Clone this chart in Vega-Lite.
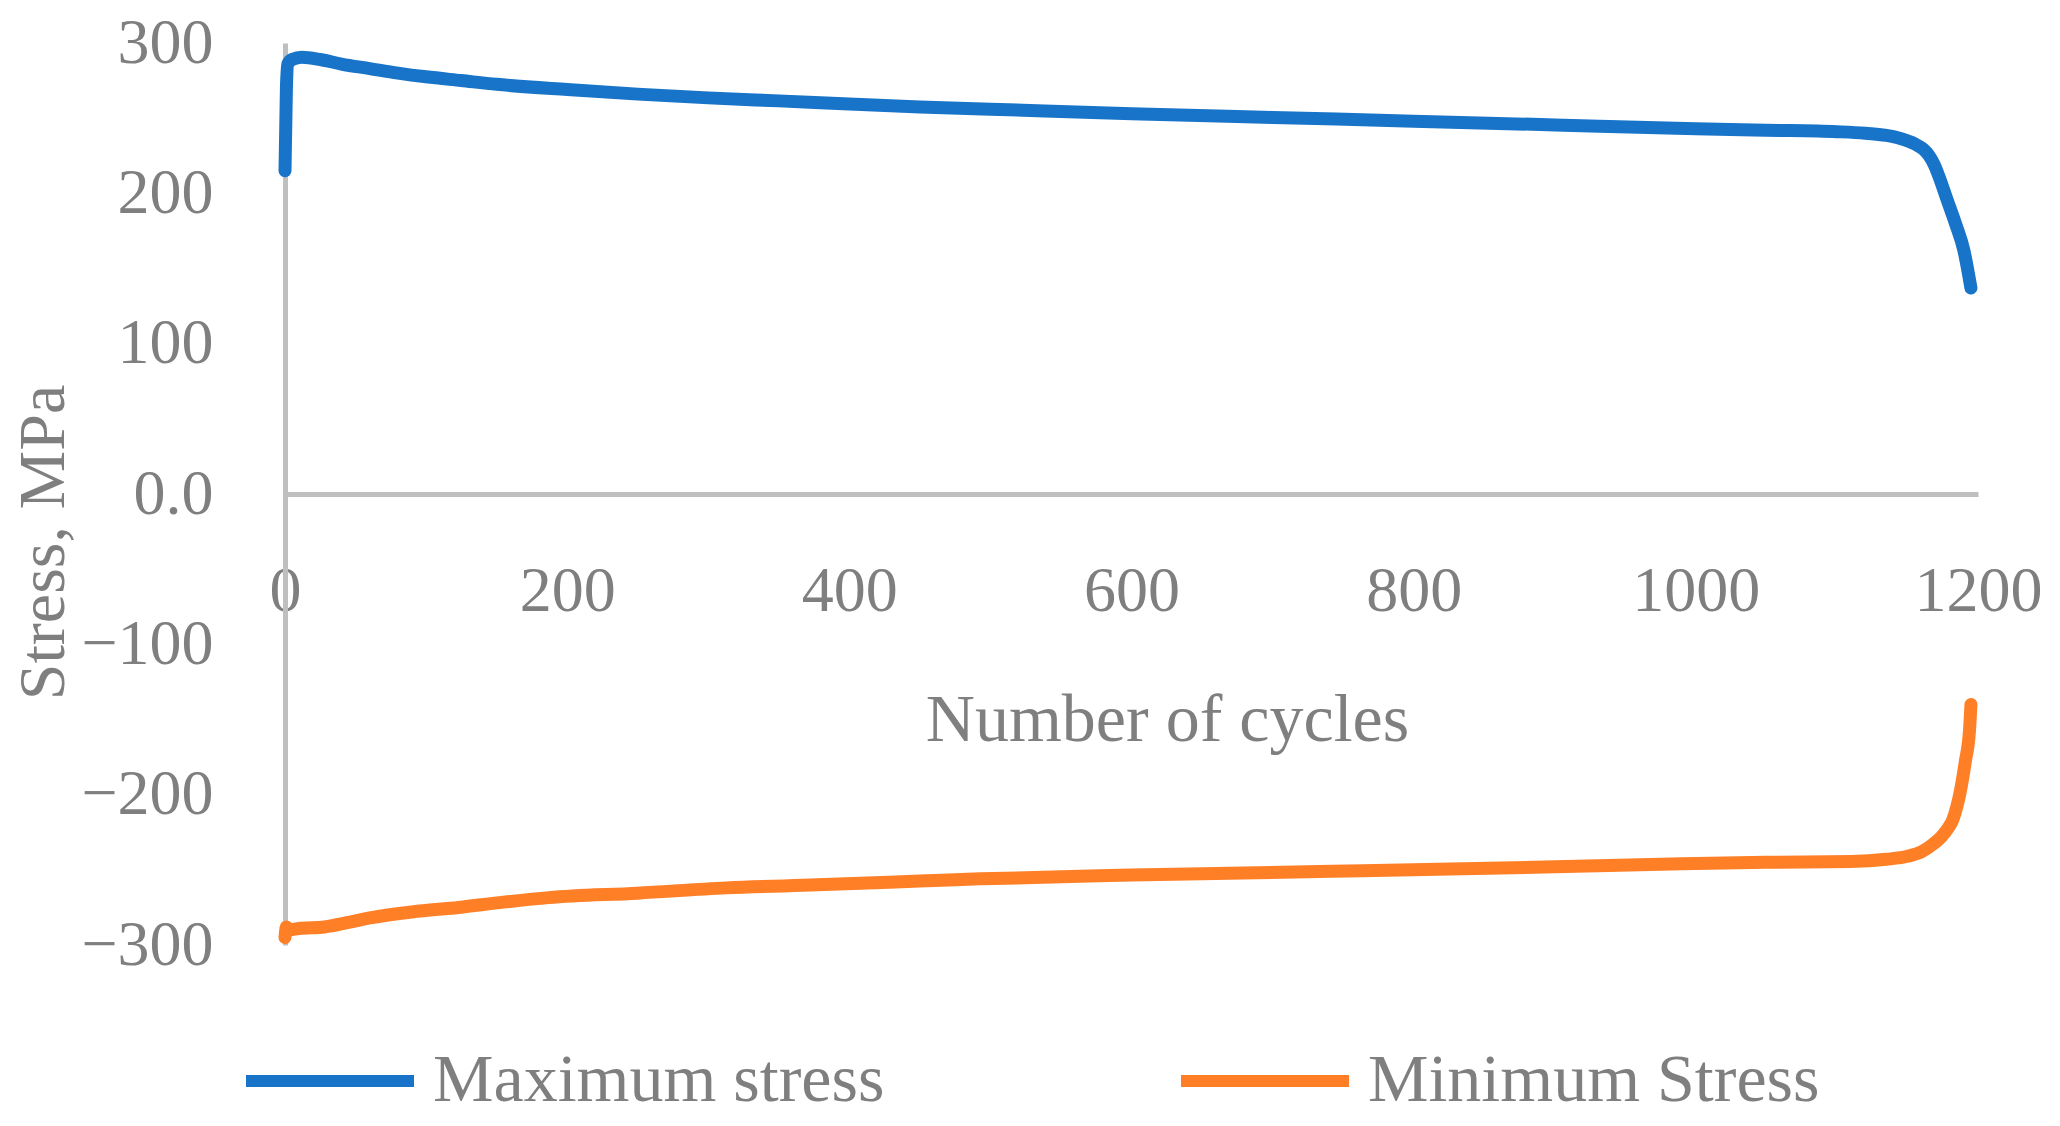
{
  "$schema": "https://vega.github.io/schema/vega-lite/v6.json",
  "autosize": {"type": "none"},
  "padding": {"left": 285, "top": 43, "right": 82, "bottom": 181},
  "width": 1693,
  "height": 902,
  "background": "white",
  "config": {
    "view": {"stroke": null},
    "font": "Liberation Serif",
    "axis": {"grid": false, "labelFont": "Liberation Serif", "titleFont": "Liberation Serif", "labelColor": "#7f7f7f", "titleColor": "#7f7f7f", "domainColor": "#bfbfbf", "domainWidth": 5, "ticks": false, "tickSize": 0, "titleFontWeight": "normal"},
    "legend": {"labelFont": "Liberation Serif", "labelColor": "#7f7f7f"}
  },
  "data": {"values": [
    {"n": 0, "s": 215, "series": "Maximum stress"},
    {"n": 1, "s": 270, "series": "Maximum stress"},
    {"n": 2, "s": 286, "series": "Maximum stress"},
    {"n": 5, "s": 289, "series": "Maximum stress"},
    {"n": 12, "s": 290.5, "series": "Maximum stress"},
    {"n": 25, "s": 289, "series": "Maximum stress"},
    {"n": 40, "s": 286, "series": "Maximum stress"},
    {"n": 60, "s": 283, "series": "Maximum stress"},
    {"n": 80, "s": 280, "series": "Maximum stress"},
    {"n": 100, "s": 277.5, "series": "Maximum stress"},
    {"n": 125, "s": 275, "series": "Maximum stress"},
    {"n": 150, "s": 272.5, "series": "Maximum stress"},
    {"n": 200, "s": 269, "series": "Maximum stress"},
    {"n": 250, "s": 266, "series": "Maximum stress"},
    {"n": 300, "s": 263.5, "series": "Maximum stress"},
    {"n": 350, "s": 261.5, "series": "Maximum stress"},
    {"n": 400, "s": 259.5, "series": "Maximum stress"},
    {"n": 450, "s": 257.5, "series": "Maximum stress"},
    {"n": 500, "s": 256, "series": "Maximum stress"},
    {"n": 600, "s": 253, "series": "Maximum stress"},
    {"n": 700, "s": 250.5, "series": "Maximum stress"},
    {"n": 800, "s": 248, "series": "Maximum stress"},
    {"n": 900, "s": 245.5, "series": "Maximum stress"},
    {"n": 1000, "s": 243, "series": "Maximum stress"},
    {"n": 1050, "s": 242, "series": "Maximum stress"},
    {"n": 1100, "s": 241, "series": "Maximum stress"},
    {"n": 1120, "s": 240, "series": "Maximum stress"},
    {"n": 1135, "s": 238.5, "series": "Maximum stress"},
    {"n": 1145, "s": 236.5, "series": "Maximum stress"},
    {"n": 1155, "s": 233, "series": "Maximum stress"},
    {"n": 1161, "s": 229.5, "series": "Maximum stress"},
    {"n": 1165, "s": 225.5, "series": "Maximum stress"},
    {"n": 1169, "s": 219, "series": "Maximum stress"},
    {"n": 1172, "s": 212, "series": "Maximum stress"},
    {"n": 1178, "s": 196, "series": "Maximum stress"},
    {"n": 1184, "s": 180, "series": "Maximum stress"},
    {"n": 1190, "s": 162, "series": "Maximum stress"},
    {"n": 1195, "s": 137, "series": "Maximum stress"},
    {"n": 0, "s": -295, "series": "Minimum Stress"},
    {"n": 1, "s": -288, "series": "Minimum Stress"},
    {"n": 2, "s": -290, "series": "Minimum Stress"},
    {"n": 10, "s": -289, "series": "Minimum Stress"},
    {"n": 28, "s": -288, "series": "Minimum Stress"},
    {"n": 45, "s": -285, "series": "Minimum Stress"},
    {"n": 60, "s": -282, "series": "Minimum Stress"},
    {"n": 90, "s": -278, "series": "Minimum Stress"},
    {"n": 123, "s": -275, "series": "Minimum Stress"},
    {"n": 155, "s": -271.5, "series": "Minimum Stress"},
    {"n": 187, "s": -268.5, "series": "Minimum Stress"},
    {"n": 250, "s": -265.5, "series": "Minimum Stress"},
    {"n": 313, "s": -262, "series": "Minimum Stress"},
    {"n": 377, "s": -260, "series": "Minimum Stress"},
    {"n": 450, "s": -257.5, "series": "Minimum Stress"},
    {"n": 493, "s": -256, "series": "Minimum Stress"},
    {"n": 600, "s": -253.5, "series": "Minimum Stress"},
    {"n": 742, "s": -251, "series": "Minimum Stress"},
    {"n": 900, "s": -248, "series": "Minimum Stress"},
    {"n": 990, "s": -246, "series": "Minimum Stress"},
    {"n": 1050, "s": -245, "series": "Minimum Stress"},
    {"n": 1110, "s": -244.5, "series": "Minimum Stress"},
    {"n": 1135, "s": -243, "series": "Minimum Stress"},
    {"n": 1150, "s": -241, "series": "Minimum Stress"},
    {"n": 1160, "s": -238, "series": "Minimum Stress"},
    {"n": 1168, "s": -233, "series": "Minimum Stress"},
    {"n": 1174, "s": -228, "series": "Minimum Stress"},
    {"n": 1179, "s": -222, "series": "Minimum Stress"},
    {"n": 1182, "s": -217, "series": "Minimum Stress"},
    {"n": 1185, "s": -208, "series": "Minimum Stress"},
    {"n": 1187, "s": -200, "series": "Minimum Stress"},
    {"n": 1191, "s": -178, "series": "Minimum Stress"},
    {"n": 1194, "s": -157, "series": "Minimum Stress"},
    {"n": 1195, "s": -140, "series": "Minimum Stress"}
  ]},
  "mark": {"type": "line", "strokeWidth": 13, "strokeCap": "round", "strokeJoin": "round", "interpolate": "monotone"},
  "encoding": {
    "x": {
      "field": "n", "type": "quantitative",
      "scale": {"domain": [0, 1200], "nice": false},
      "axis": {
        "orient": "bottom", "offset": -451, "values": [0, 200, 400, 600, 800, 1000, 1200],
        "format": "d", "labelFontSize": 64, "labelPadding": 65, "labelFlush": false, "labelOverlap": false,
        "title": "Number of cycles", "titleFontSize": 68, "titleX": 882, "titleY": 246, "titleBaseline": "alphabetic"
      }
    },
    "y": {
      "field": "s", "type": "quantitative",
      "scale": {"domain": [-300, 300], "nice": false},
      "axis": {
        "values": [-300, -200, -100, 0, 100, 200, 300],
        "labelExpr": "datum.value == 0 ? '0.0' : format(datum.value, 'd')",
        "labelFontSize": 64, "labelPadding": 72, "labelOverlap": false,
        "title": "Stress, MPa", "titleFontSize": 66, "titleX": -222, "titleY": 499, "titleBaseline": "alphabetic", "titleAngle": -90, "titleAlign": "center"
      }
    },
    "color": {
      "field": "series", "type": "nominal",
      "scale": {"domain": ["Maximum stress", "Minimum Stress"], "range": ["#1874C8", "#FF7F27"]},
      "legend": {
        "title": null, "orient": "none", "direction": "horizontal", "legendX": -45, "legendY": 948,
        "symbolType": "stroke", "symbolSize": 28224, "symbolStrokeWidth": 12,
        "labelFontSize": 68, "labelOffset": 13, "labelLimit": 0, "columnPadding": 272, "padding": 0
      }
    }
  }
}
